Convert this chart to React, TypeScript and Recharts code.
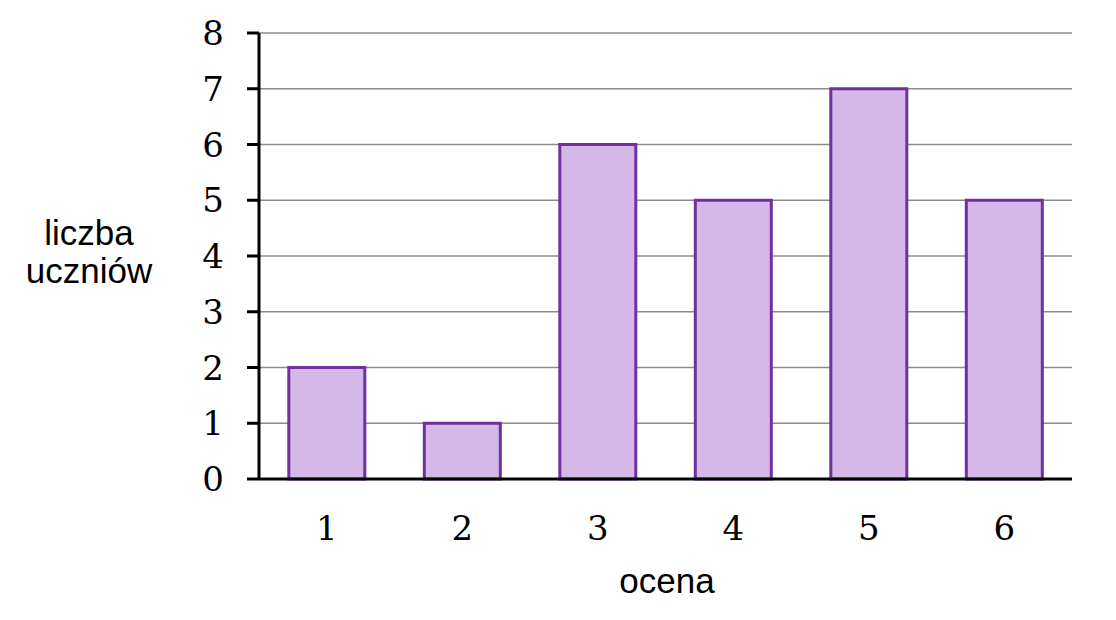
import React from 'react';
import { BarChart, Bar, XAxis, YAxis, CartesianGrid } from 'recharts';

const categories = ['1', '2', '3', '4', '5', '6'];
const counts = [2, 1, 6, 5, 7, 5];
const yTicks = [0, 1, 2, 3, 4, 5, 6, 7, 8];

const data = categories.map((c, i) => ({ ocena: c, liczba: counts[i] }));

const sans = '"Liberation Sans", Arial, sans-serif';
const serif = '"DejaVu Serif", "Liberation Serif", serif';

export default function App() {
  return (
    <div style={{ position: 'absolute', left: 0, top: 0, width: 1116, height: 620, background: '#fff' }}>
      <BarChart
        width={1116}
        height={620}
        data={data}
        margin={{ top: 33, right: 44, bottom: 81, left: 0 }}
        barCategoryGap="22%"
      >
        <CartesianGrid vertical={false} stroke="#8c8c8c" strokeWidth={1.5} />
        <XAxis
          dataKey="ocena"
          height={60}
          tickLine={false}
          tickSize={0}
          tickMargin={37}
          fontSize={34}
          fontFamily={serif}
          axisLine={{ stroke: '#000', strokeWidth: 3 }}
          tick={{ fill: '#000', fontFamily: serif, fontSize: 34 }}
        />
        <YAxis
          width={259}
          domain={[0, 8]}
          ticks={yTicks}
          interval={0}
          tickSize={12}
          tickMargin={23}
          fontSize={34}
          fontFamily={serif}
          tickLine={{ stroke: '#000', strokeWidth: 3 }}
          axisLine={{ stroke: '#000', strokeWidth: 3 }}
          tick={{ fill: '#000', fontFamily: serif, fontSize: 34 }}
        />
        <Bar
          dataKey="liczba"
          fill="#D5B8E8"
          stroke="#7030A0"
          strokeWidth={3}
          isAnimationActive={false}
        />
      </BarChart>
      <div
        style={{
          position: 'absolute',
          left: 9,
          top: 214,
          width: 160,
          textAlign: 'center',
          fontFamily: sans,
          fontSize: 35,
          lineHeight: '38px',
          color: '#000',
        }}
      >
        liczba
        <br />
        uczniów
      </div>
      <div
        style={{
          position: 'absolute',
          left: 567,
          top: 562,
          width: 200,
          textAlign: 'center',
          fontFamily: sans,
          fontSize: 35,
          lineHeight: '38px',
          color: '#000',
        }}
      >
        ocena
      </div>
    </div>
  );
}
